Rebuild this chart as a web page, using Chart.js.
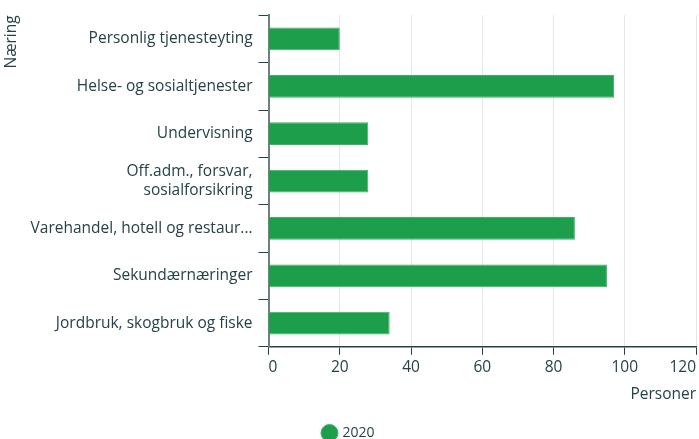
<!DOCTYPE html>
<html>
<head>
<meta charset="utf-8">
<script src="https://cdn.jsdelivr.net/npm/chart.js@4/dist/chart.umd.min.js"></script>
<style>
  html, body { margin: 0; padding: 0; background: #fff; }
  #wrap { width: 699px; height: 439px; }
</style>
</head>
<body>
<div id="wrap"><canvas id="chart" width="699" height="439"></canvas></div>
<script>
var categories = [
  'Personlig tjenesteyting',
  'Helse- og sosialtjenester',
  'Undervisning',
  ['Off.adm., forsvar,', 'sosialforsikring'],
  'Varehandel, hotell og restaur...',
  'Sekundærnæringer',
  'Jordbruk, skogbruk og fiske'
];
var values2020 = [20, 97, 28, 28, 86, 95, 34];
var xTicks = [0, 20, 40, 60, 80, 100, 120];

var textColor = '#274247';
var fontSize = 15.5;
Chart.defaults.font.family = '"Open Sans", sans-serif';
Chart.defaults.color = textColor;

var ctx = document.getElementById('chart').getContext('2d');
var chart = new Chart(ctx, {
  type: 'bar',
  data: {
    labels: categories,
    datasets: [{
      label: '2020',
      data: values2020,
      backgroundColor: '#1c9e4b',
      borderColor: '#3fb168',
      borderWidth: 1,
      borderSkipped: 'start',
      barPercentage: 0.48,
      categoryPercentage: 1
    }]
  },
  options: {
    indexAxis: 'y',
    responsive: false,
    animation: false,
    layout: { padding: { top: 5, right: 3, left: 2, bottom: -11 } },
    scales: {
      x: {
        min: 0,
        max: 120,
        afterBuildTicks: function(axis) {
          axis.ticks = xTicks.map(function(v) { return { value: v }; });
        },
        grid: {
          color: '#e6e6e6',
          tickColor: '#274247',
          tickLength: 8,
          lineWidth: 1
        },
        border: { color: '#274247', width: 1.5 },
        ticks: { font: { size: fontSize }, color: textColor, padding: 3, align: 'inner' },
        title: {
          display: true,
          text: 'Personer',
          align: 'end',
          font: { size: fontSize },
          color: textColor,
          padding: { top: 6, bottom: 19 }
        }
      },
      y: {
        grid: {
          drawOnChartArea: false,
          drawTicks: true,
          tickLength: 10,
          tickColor: '#274247',
          offset: true
        },
        border: { color: '#6f8080', width: 2 },
        ticks: { font: { size: fontSize }, color: textColor, padding: 6 },
        title: {
          display: true,
          text: 'Næring',
          align: 'end',
          font: { size: fontSize },
          color: textColor,
          padding: { top: 0, bottom: 4 }
        }
      }
    },
    plugins: {
      legend: {
        position: 'bottom',
        labels: {
          usePointStyle: true,
          pointStyle: 'circle',
          boxWidth: 12,
          boxHeight: 12,
          font: { size: 14 },
          color: textColor,
          padding: 3
        }
      },
      tooltip: { enabled: false }
    }
  }
});
</script>
</body>
</html>
